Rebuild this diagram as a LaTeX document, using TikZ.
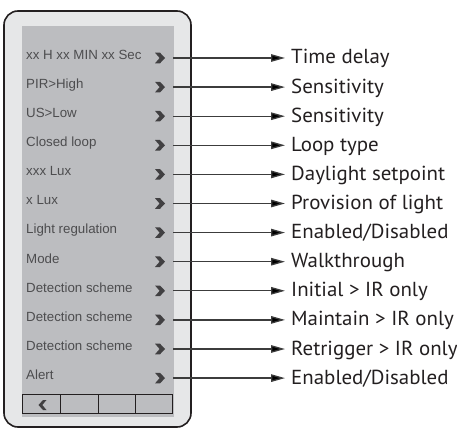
\documentclass[tikz,border=0pt]{standalone}
\usepackage{fontspec}
\setmainfont{Liberation Sans}
\newfontfamily\labelfont[FakeStretch=1.03]{PT Sans}
\usetikzlibrary{arrows.meta}
\definecolor{outerfill}{HTML}{E6E7E8}
\definecolor{outerdraw}{HTML}{231F20}
\definecolor{panelfill}{HTML}{BCBDC0}
\definecolor{itemtext}{HTML}{4D4D4F}
\definecolor{chevc}{HTML}{414042}
\definecolor{connc}{HTML}{3C3C3C}
\definecolor{labtext}{HTML}{231F20}
\tikzset{
  item/.style={inner sep=0pt, text=itemtext, font=\fontsize{13.3}{15}\selectfont},
  lab/.style={inner ysep=0pt, inner xsep=6pt, text=labtext, font=\labelfont\fontsize{20.3}{24}\selectfont},
  conn/.style={draw=connc, line width=1.3pt, -{Triangle[length=14pt,width=7.5pt,fill=black]}},
  chev/.style={fill=chevc},
  bar/.style={draw=outerdraw, line width=1pt}
}
\newcommand\mrow[3]{%
  \pgfmathsetmacro\yy{58+29.1*#1}%
  \node[item, anchor=base west] (it#1) at (26,\yy+1.3) {#2};
  \fill[chev] (155,\yy-5.3) -- (160,\yy-5.3) -- (165,\yy) -- (160,\yy+5.3) -- (155,\yy+5.3) -- (159.6,\yy) -- cycle;
  \coordinate (s#1) at (173,\yy);
  \node[lab, anchor=base west] (lb#1) at (285,\yy+6) {#3};
  \draw[conn] (s#1) -- (s#1 -| lb#1.west);
}
\begin{document}
\begin{tikzpicture}[x=1pt,y=-1pt]
\useasboundingbox (0,0) rectangle (457,430);
\draw[fill=outerfill, draw=outerdraw, line width=1.6pt, rounded corners=14pt] (4,11) rectangle (191,427);
\fill[panelfill] (22,26) rectangle (174,416.5);
\mrow{0}{xx H xx MIN xx Sec}{Time delay}
\mrow{1}{PIR>High}{Sensitivity}
\mrow{2}{US>Low}{Sensitivity}
\mrow{3}{Closed loop}{Loop type}
\mrow{4}{xxx Lux}{Daylight setpoint}
\mrow{5}{x Lux}{Provision of light}
\mrow{6}{Light regulation}{Enabled/Disabled}
\mrow{7}{Mode}{Walkthrough}
\mrow{8}{Detection scheme}{Initial > IR only}
\mrow{9}{Detection scheme}{Maintain > IR only}
\mrow{10}{Detection scheme}{Retrigger > IR only}
\mrow{11}{Alert}{Enabled/Disabled}
\draw[bar] (22,394.3) rectangle (172,413.5);
\draw[bar] (60.7,394.3) -- (60.7,413.5);
\draw[bar] (98,394.3) -- (98,413.5);
\draw[bar] (135,394.3) -- (135,413.5);
\fill[chev] (46.5,400) -- (43,400) -- (38.5,405) -- (43,410) -- (46.5,410) -- (42.3,405) -- cycle;
\end{tikzpicture}
\end{document}
